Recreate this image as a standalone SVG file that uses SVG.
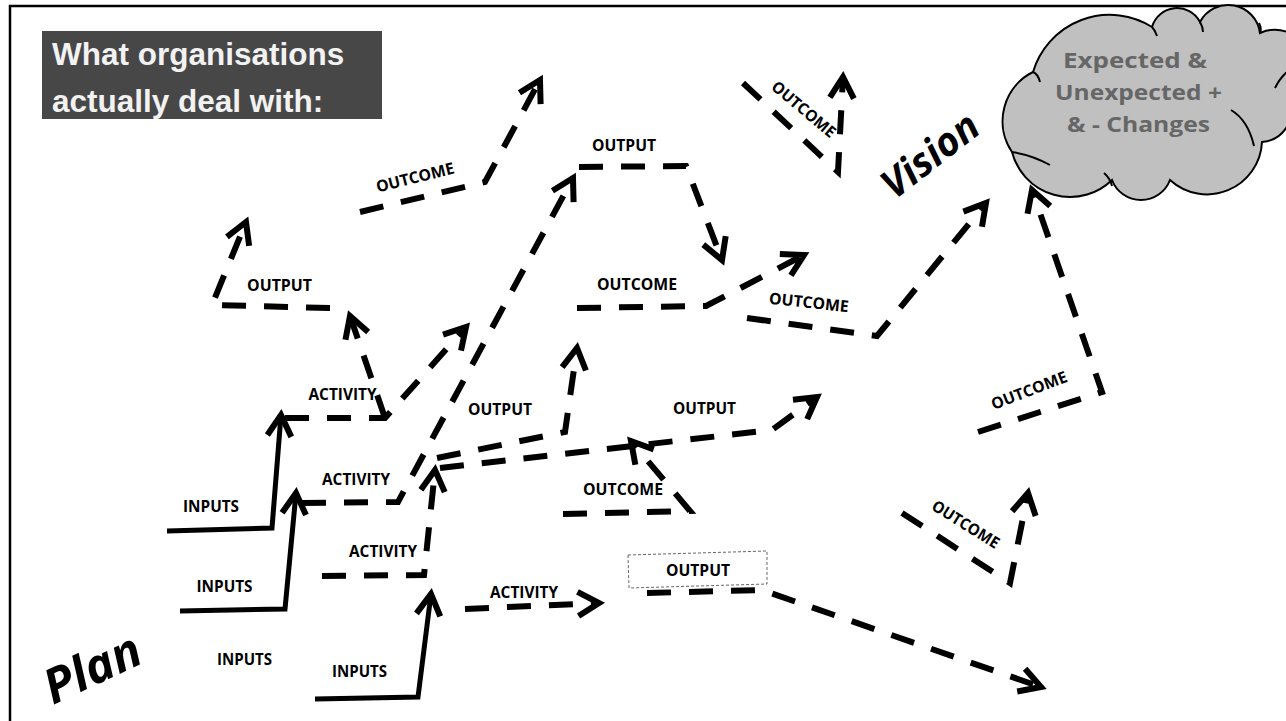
<svg xmlns="http://www.w3.org/2000/svg" width="1286" height="721" viewBox="0 0 1286 721">
<style>
.dash{fill:none;stroke:#000;stroke-width:6;stroke-dasharray:24 18;marker-end:url(#ah)}
.solid{fill:none;stroke:#000;stroke-width:5;stroke-linejoin:miter;marker-end:url(#ah)}
.lbl{font-family:"Open Sans","Liberation Sans",sans-serif;font-weight:bold;font-size:16px;fill:#000;text-anchor:middle}
.big{font-family:"Open Sans","Liberation Sans",sans-serif;font-weight:bold;font-style:italic;fill:#000;text-anchor:middle}
.cl{font-family:"Open Sans","Liberation Sans",sans-serif;font-weight:bold;font-size:21px;fill:#666;text-anchor:middle}
.ttl{font-family:"Liberation Sans",Arial,sans-serif;font-weight:bold;font-size:31.5px;fill:#f2f2f2}
.notch{fill:none;stroke:#000;stroke-width:2}
</style>
<defs>
<marker id="ah" markerUnits="userSpaceOnUse" markerWidth="60" markerHeight="60" viewBox="-30 -30 60 60" refX="0" refY="0" orient="auto" overflow="visible">
<path d="M-21,-12 L0,0 L-21,12" fill="none" stroke="#000" stroke-width="6" stroke-dasharray="none" stroke-linejoin="miter"/>
</marker>
</defs>
<rect width="1286" height="721" fill="#fff"/>
<path d="M10,721 V6 H1286" fill="none" stroke="#000" stroke-width="2.5"/>

<g id="title">
<rect x="42" y="31" width="340" height="88" fill="#474747"/>
<text class="ttl" x="52" y="64.5">What organisations</text>
<text class="ttl" x="52" y="111.5">actually deal with:</text>
</g>

<g id="cloud">
<path d="M1012,152 A55,55 0 0,1 1033,72 A80,80 0 0,1 1152,27 A26,26 0 0,1 1200,22 A32,32 0 0,1 1260,33 A36,36 0 0,1 1290,100 A32,32 0 0,1 1262,142 A55,55 0 0,1 1170,180 A31,31 0 0,1 1112,180 A60,60 0 0,1 1012,152 Z" fill="#c0c0c0" stroke="#000" stroke-width="2"/>
<path class="notch" d="M1012,152 Q1032,155 1050,165"/>
<path class="notch" d="M1033,72 Q1038,74 1040,82"/>
<path class="notch" d="M1152,27 Q1155,30 1157,36"/>
<path class="notch" d="M1200,22 Q1203,27 1203,32"/>
<path class="notch" d="M1260,33 Q1262,29 1259,23"/>
<path class="notch" d="M1287,72 Q1280,78 1275,88"/>
<path class="notch" d="M1231,110 Q1248,120 1254,146"/>
<path class="notch" d="M1104,173 Q1110,178 1112,186"/>
<text class="cl" x="1135" y="68" textLength="144" lengthAdjust="spacingAndGlyphs">Expected &amp;</text>
<text class="cl" x="1138.5" y="100" textLength="167" lengthAdjust="spacingAndGlyphs">Unexpected +</text>
<text class="cl" x="1138.5" y="132" textLength="143" lengthAdjust="spacingAndGlyphs">&amp; - Changes</text>
</g>

<g id="connectors">
<path class="solid" d="M167,531 L272,528 L281,415"/>
<path class="solid" d="M180,611 L285,609 L296,493"/>
<path class="solid" d="M315,699 L418,697 L431,594"/>
<path class="dash" d="M285,418 L385,418 L466,327"/>
<path class="dash" d="M385,418 L350,316"/>
<path class="dash" d="M330,308 L212,305 L246,222"/>
<path class="dash" d="M302,503 L398,502 L573,178"/>
<path class="dash" d="M579,167 L686,166 L722,260"/>
<path class="dash" d="M360,212 L485,182 L540,80"/>
<path class="dash" d="M743,83 L838,172 L843,77"/>
<path class="dash" d="M577,308 L706,306 L804,255"/>
<path class="dash" d="M747,318 L877,336 L986,203"/>
<path class="dash" d="M978,432 L1102,392 L1032,190"/>
<path class="dash" d="M902,513 L1010,583 L1028,493"/>
<path class="dash" d="M647,593 L762,590 L1041,687"/>
<path class="dash" d="M465,609 L599,603"/>
<path class="dash" d="M322,576 L424,575 L435,470"/>
<path class="dash" d="M437,458 L565,432 L577,348"/>
<path class="dash" d="M440,468 L772,430 L817,397"/>
<path class="dash" d="M563,514 L690,511 L631,441"/>
</g>

<g id="inputs">
<text class="lbl" x="211" y="512" textLength="56" lengthAdjust="spacingAndGlyphs">INPUTS</text>
<text class="lbl" x="224.5" y="592" textLength="56" lengthAdjust="spacingAndGlyphs">INPUTS</text>
<text class="lbl" x="244.5" y="664.5" textLength="55" lengthAdjust="spacingAndGlyphs">INPUTS</text>
<text class="lbl" x="359.5" y="676.5" textLength="55" lengthAdjust="spacingAndGlyphs">INPUTS</text>
</g>
<g id="activities">
<text class="lbl" x="342.5" y="400" textLength="68" lengthAdjust="spacingAndGlyphs">ACTIVITY</text>
<text class="lbl" x="356" y="485" textLength="68" lengthAdjust="spacingAndGlyphs">ACTIVITY</text>
<text class="lbl" x="383" y="557" textLength="68" lengthAdjust="spacingAndGlyphs">ACTIVITY</text>
<text class="lbl" x="524" y="598" textLength="68" lengthAdjust="spacingAndGlyphs">ACTIVITY</text>
</g>
<g id="outputs">
<text class="lbl" x="279.5" y="291" textLength="65" lengthAdjust="spacingAndGlyphs">OUTPUT</text>
<text class="lbl" x="624" y="150.5" textLength="64" lengthAdjust="spacingAndGlyphs">OUTPUT</text>
<text class="lbl" x="500" y="415" textLength="64" lengthAdjust="spacingAndGlyphs">OUTPUT</text>
<text class="lbl" x="704.5" y="414" textLength="63" lengthAdjust="spacingAndGlyphs">OUTPUT</text>
<polygon points="628,555 767,551 767,584 629,588" fill="none" stroke="#666" stroke-width="1" stroke-dasharray="3 2"/>
<text class="lbl" x="698" y="576" textLength="64" lengthAdjust="spacingAndGlyphs">OUTPUT</text>
</g>
<g id="outcomes">
<text class="lbl" x="637" y="290" textLength="80" lengthAdjust="spacingAndGlyphs">OUTCOME</text>
<text class="lbl" x="623" y="495" textLength="80" lengthAdjust="spacingAndGlyphs">OUTCOME</text>
<text class="lbl" transform="translate(415,177) rotate(-14)" x="0" y="6" textLength="80" lengthAdjust="spacingAndGlyphs">OUTCOME</text>
<text class="lbl" transform="translate(809,302) rotate(6)" x="0" y="6" textLength="80" lengthAdjust="spacingAndGlyphs">OUTCOME</text>
<text class="lbl" transform="translate(804,109) rotate(40)" x="0" y="6" textLength="78" lengthAdjust="spacingAndGlyphs">OUTCOME</text>
<text class="lbl" transform="translate(1029,390) rotate(-21)" x="0" y="6" textLength="80" lengthAdjust="spacingAndGlyphs">OUTCOME</text>
<text class="lbl" transform="translate(966,524) rotate(32)" x="0" y="6" textLength="76" lengthAdjust="spacingAndGlyphs">OUTCOME</text>
</g>
<g id="plan">
<text class="big" transform="translate(92,668) rotate(-25)" x="0" y="17" font-size="48" textLength="102" lengthAdjust="spacingAndGlyphs">Plan</text>
</g>
<g id="vision">
<text class="big" transform="translate(930,155) rotate(-38)" x="0" y="14" font-size="40" textLength="112" lengthAdjust="spacingAndGlyphs">Vision</text>
</g>
</svg>
